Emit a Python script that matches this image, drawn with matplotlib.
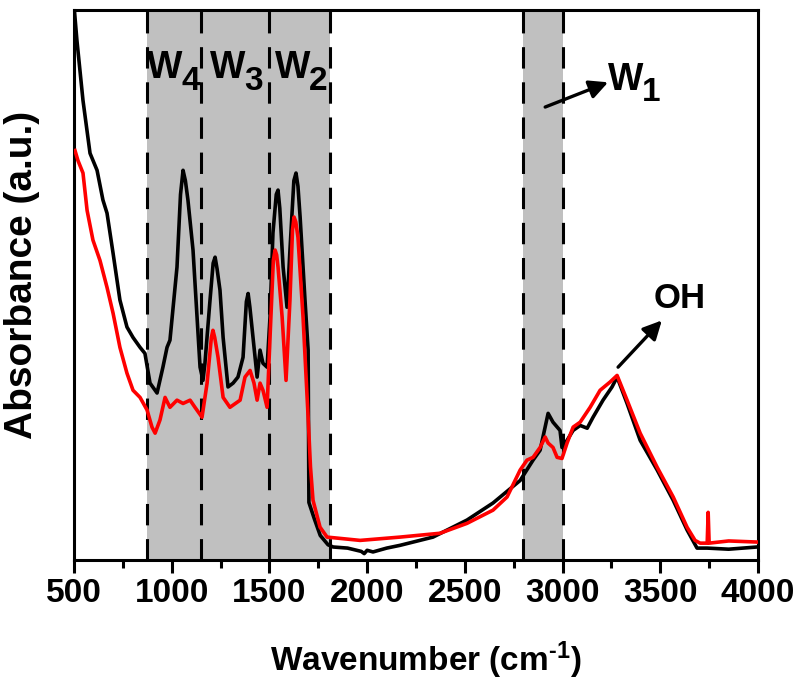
import matplotlib.pyplot as plt
from matplotlib.ticker import MultipleLocator

plt.rcParams['font.family'] = ['Liberation Sans', 'DejaVu Sans']
plt.rcParams['font.weight'] = 'bold'
plt.rcParams['mathtext.fontset'] = 'custom'
plt.rcParams['mathtext.rm'] = 'Liberation Sans:bold'
plt.rcParams['mathtext.default'] = 'rm'

# spectrum 1 (black)
black_wn = [502, 515, 546, 582, 618, 648, 669, 700, 735, 771, 802, 838, 863, 889, 925,
            955, 976, 991, 1027, 1045, 1058, 1070, 1083, 1109, 1145, 1160, 1170, 1196,
            1212, 1222, 1232, 1247, 1263, 1288, 1314, 1339, 1365, 1382, 1391, 1400, 1416,
            1437, 1452, 1467, 1488, 1503, 1518, 1535, 1544, 1553, 1570, 1590, 1605, 1625,
            1636, 1646, 1657, 1682, 1698, 1702, 1730, 1760, 1800, 1826, 1900, 1970, 1985,
            2000, 2030, 2100, 2168, 2337, 2511, 2644, 2783, 2849, 2885, 2926, 2951, 2987,
            2997, 3023, 3054, 3090, 3126, 3156, 3207, 3253, 3279, 3330, 3397, 3484, 3566,
            3637, 3688, 3740, 3850, 3995]
black_abs = [1.0, 0.945, 0.836, 0.740, 0.709, 0.655, 0.631, 0.558, 0.473, 0.424, 0.405,
             0.387, 0.376, 0.322, 0.304, 0.351, 0.387, 0.400, 0.533, 0.665, 0.709, 0.690,
             0.655, 0.564, 0.351, 0.327, 0.358, 0.473, 0.540, 0.551, 0.530, 0.491, 0.405,
             0.315, 0.322, 0.333, 0.369, 0.470, 0.485, 0.460, 0.405, 0.333, 0.382, 0.358,
             0.351, 0.442, 0.595, 0.665, 0.673, 0.640, 0.533, 0.460, 0.564, 0.690, 0.704,
             0.680, 0.624, 0.473, 0.382, 0.105, 0.075, 0.045, 0.028, 0.024, 0.022, 0.016,
             0.012, 0.018, 0.015, 0.022, 0.027, 0.042, 0.073, 0.104, 0.145, 0.182, 0.200,
             0.267, 0.251, 0.236, 0.205, 0.218, 0.236, 0.245, 0.240, 0.260, 0.291, 0.315,
             0.333, 0.285, 0.218, 0.164, 0.109, 0.055, 0.022, 0.022, 0.020, 0.024]

# spectrum 2 (red)
red_wn = [505, 520, 546, 567, 597, 633, 669, 700, 735, 771, 802, 838, 874, 899, 915, 940,
          966, 991, 1027, 1058, 1094, 1119, 1155, 1181, 1203, 1211, 1220, 1237, 1263, 1298,
          1350, 1375, 1401, 1421, 1437, 1452, 1467, 1488, 1503, 1520, 1529, 1537, 1544,
          1565, 1585, 1605, 1618, 1626, 1635, 1646, 1672, 1698, 1710, 1723, 1759, 1795,
          1964, 2168, 2373, 2511, 2644, 2716, 2783, 2818, 2849, 2885, 2911, 2926, 2951,
          2972, 2997, 3023, 3054, 3090, 3141, 3192, 3243, 3279, 3330, 3397, 3484, 3566,
          3637, 3678, 3704, 3740, 3745, 3750, 3850, 3995]
red_abs = [0.745, 0.727, 0.704, 0.636, 0.582, 0.545, 0.496, 0.449, 0.387, 0.340, 0.309,
           0.296, 0.273, 0.242, 0.231, 0.255, 0.296, 0.278, 0.291, 0.285, 0.291, 0.278,
           0.260, 0.322, 0.405, 0.418, 0.405, 0.369, 0.296, 0.278, 0.291, 0.333, 0.345,
           0.322, 0.291, 0.322, 0.309, 0.278, 0.405, 0.545, 0.564, 0.555, 0.533, 0.442,
           0.327, 0.473, 0.600, 0.624, 0.615, 0.587, 0.442, 0.260, 0.170, 0.109, 0.060,
           0.042, 0.036, 0.042, 0.049, 0.067, 0.091, 0.115, 0.164, 0.182, 0.187, 0.205,
           0.224, 0.213, 0.205, 0.187, 0.185, 0.213, 0.242, 0.251, 0.278, 0.309, 0.324,
           0.336, 0.291, 0.231, 0.169, 0.115, 0.060, 0.036, 0.031, 0.031, 0.087, 0.031,
           0.035, 0.033]

shaded = [(875, 1810), (2800, 3000)]
dashed = [875, 1150, 1500, 1810, 2800, 3000]
w_labels = [('4', 874), ('3', 1196), ('2', 1529)]

fig = plt.figure(figsize=(8, 6.84), dpi=100)
ax = fig.add_axes([0.0925, 0.181, 0.855, 0.804])

for lo, hi in shaded:
    ax.axvspan(lo, hi, color='#c0c0c0', lw=0, zorder=0)
for x in dashed:
    ax.axvline(x, color='black', lw=2.2, dashes=(7, 4.5), zorder=1)

ax.plot(black_wn, black_abs, color='black', lw=2.6, zorder=3)
ax.plot(red_wn, red_abs, color='#ff0000', lw=2.6, zorder=4)


def w_label(x, y, sub):
    ax.text(x, y, 'W', fontsize=27, fontweight='bold',
            ha='left', va='baseline', zorder=5)
    ax.annotate(sub, xy=(x, y), xytext=(24.5, -8), textcoords='offset points',
                fontsize=24, fontweight='bold',
                ha='left', va='baseline', zorder=5)


for sub, x in w_labels:
    w_label(x, 0.876, sub)
w_label(3233, 0.855, '1')

ax.annotate('', xy=(3233, 0.869), xytext=(2911, 0.824),
            arrowprops=dict(arrowstyle='-|>', lw=2.4, color='black',
                            mutation_scale=28, shrinkA=0, shrinkB=0))
ax.annotate('', xy=(3508, 0.436), xytext=(3284, 0.351),
            arrowprops=dict(arrowstyle='-|>', lw=2.4, color='black',
                            mutation_scale=28, shrinkA=0, shrinkB=0))
ax.text(3601, 0.458, 'OH', fontsize=25, fontweight='bold', ha='center', va='baseline')

ax.set_xlim(500, 4000)
ax.set_ylim(0, 1)
ax.xaxis.set_major_locator(MultipleLocator(500))
ax.xaxis.set_minor_locator(MultipleLocator(250))
ax.set_yticks([])
ax.tick_params(axis='x', which='major', direction='out', length=9.5, width=2.2,
               labelsize=24, pad=3)
ax.tick_params(axis='x', which='minor', direction='out', length=5.5, width=2.2)
for s in ax.spines.values():
    s.set_linewidth(2.2)

ax.set_xlabel(r'Wavenumber (cm$^{\text{-1}}$)', fontsize=24, fontweight='bold')
ax.xaxis.set_label_coords(0.514, -0.145)
ax.set_ylabel('Absorbance (a.u.)', fontsize=28, fontweight='bold')
ax.yaxis.set_label_coords(-0.05, 0.518)

fig.savefig('out.png', dpi=100)
